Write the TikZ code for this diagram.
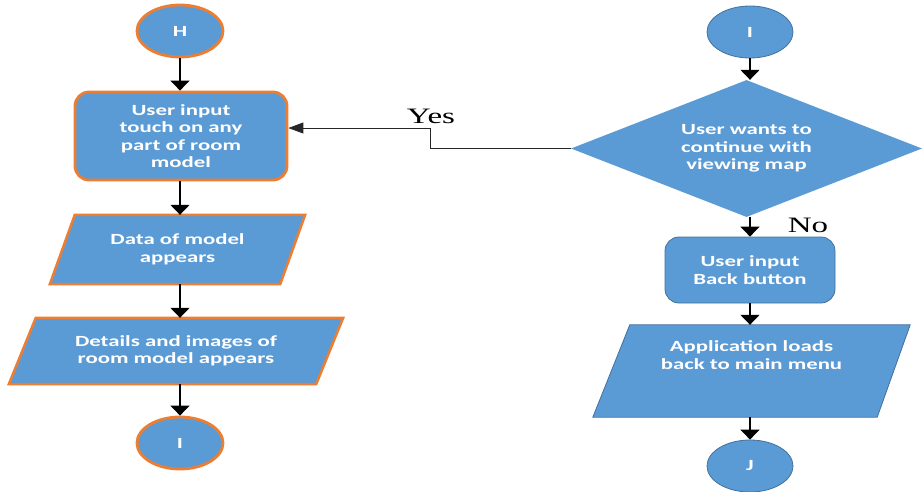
\documentclass[tikz,border=0pt]{standalone}
\usepackage{fontspec}
\newfontfamily\boxfont[FakeStretch=1.47]{Carlito}
\newfontfamily\lblfont[FakeStretch=1.5]{Liberation Serif}
\usetikzlibrary{shapes.geometric,arrows.meta,backgrounds}
\definecolor{fillblue}{HTML}{5B9BD5}
\definecolor{orng}{HTML}{ED7D31}
\definecolor{dblue}{HTML}{41719C}
\begin{document}
\begin{tikzpicture}[x=1pt,y=-1pt,
  txt/.style={text=white, font=\boxfont\bfseries\fontsize{15.5}{17.5}\selectfont, align=center, inner sep=0pt},
  conn/.style={ellipse, fill=fillblue, minimum width=86pt, minimum height=52pt, txt},
  lbord/.style={draw=orng, line width=2.8pt},
  rbord/.style={draw=dblue, line width=0.8pt},
  proc/.style={rectangle, rounded corners=14pt, fill=fillblue, txt},
  iobox/.style={rectangle, txt},
  arr/.style={draw=black, line width=1.4pt, -{Triangle[width=19pt,length=10pt]}},
  yesarr/.style={draw=black!85, line width=0.9pt, -{Triangle[width=11pt,length=15pt]}},
  lbl/.style={font=\lblfont\fontsize{22}{24}\selectfont, inner sep=0pt}
]
\useasboundingbox (0,0) rectangle (922,491);

% left column
\node[conn,lbord] (h) at (180,31) {H};
\node[proc,lbord,minimum width=212pt,minimum height=88pt] (b1) at (181,136) {User input\\touch on any\\part of room\\model};
\node[iobox,minimum width=255pt,minimum height=69pt] (p1) at (177.5,249.5) {Data of model\\appears};
\node[iobox,minimum width=334pt,minimum height=66pt] (p2) at (176,351) {Details and images of\\room model appears};
\node[conn,lbord] (i1) at (180,443) {I};

% right column
\node[conn,rbord] (i2) at (750,32) {I};
\node[diamond, aspect=2.56, fill=fillblue, minimum width=351pt, minimum height=137pt, txt] (d) at (746.5,148.5) {User wants to\\continue with\\viewing map};
\node[proc,rbord,minimum width=170pt,minimum height=66pt] (b2) at (750,270) {User input\\Back button};
\node[iobox,minimum width=317pt,minimum height=92pt] (p3) at (751.5,371) {Application loads\\back to main menu\\[14pt]};
\node[conn,rbord] (j) at (750,466) {J};

% parallelogram bodies
\begin{scope}[on background layer]
  \draw[fill=fillblue, draw=orng, line width=2.5pt, line join=miter]
    (p1.south west) -- ([xshift=25pt]p1.north west) -- (p1.north east) -- ([xshift=-25pt]p1.south east) -- cycle;
  \draw[fill=fillblue, draw=orng, line width=2.5pt, line join=miter]
    (p2.south west) -- ([xshift=27pt]p2.north west) -- (p2.north east) -- ([xshift=-27pt]p2.south east) -- cycle;
  \draw[fill=fillblue, draw=dblue, line width=0.8pt]
    (p3.south west) -- ([xshift=37pt]p3.north west) -- (p3.north east) -- ([xshift=-33pt]p3.south east) -- cycle;
\end{scope}

% connectors
\draw[arr] (h.south) -- (b1.north -| h);
\draw[arr] (b1.south -| h) -- (p1.north -| h);
\draw[arr] (p1.south -| h) -- (p2.north -| h);
\draw[arr] (p2.south -| h) -- (i1.north);
\draw[arr] (i2.south) -- (d.north -| i2);
\draw[arr] (d.south -| i2) -- (b2.north);
\draw[arr] (b2.south) -- (p3.north -| i2);
\draw[arr] (p3.south -| i2) -- (j.north);

\coordinate (ybend) at (430,148.5);
\draw[yesarr] (d.west) -- (ybend) |- ([yshift=8pt]b1.east);

\node[lbl] (yes) at (431,116) {Yes};
\node[lbl] (no) at (808,225) {No};
\end{tikzpicture}
\end{document}
